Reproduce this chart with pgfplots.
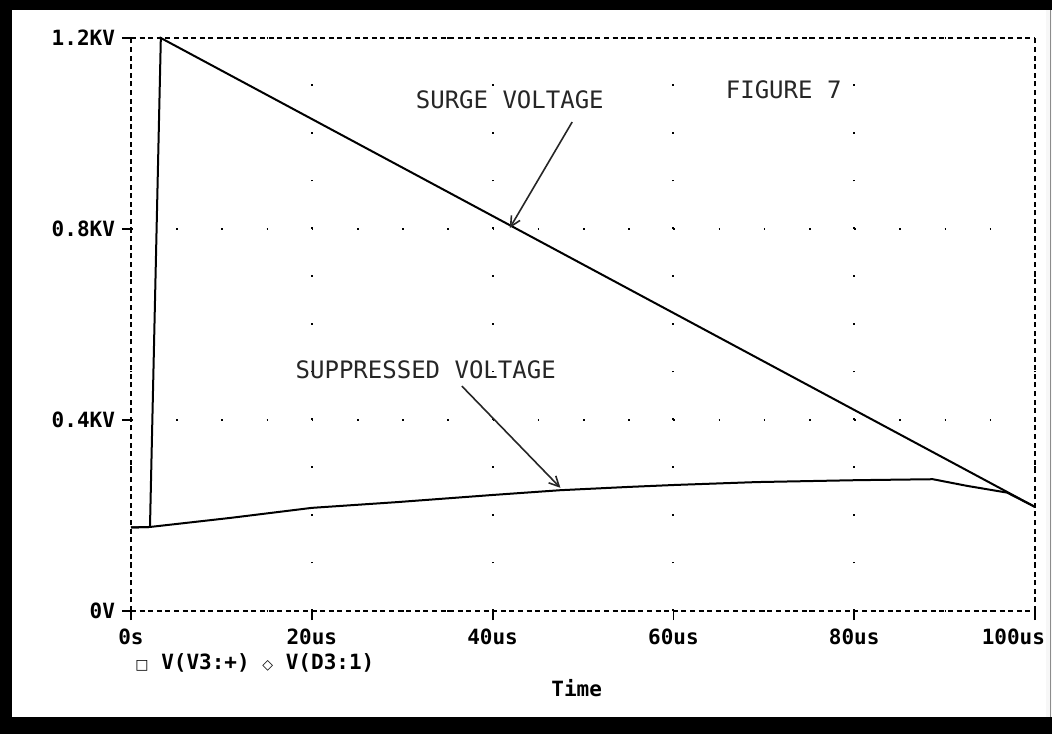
\documentclass[border=0pt]{standalone}
\usepackage{fontspec}
\usepackage{pgfplots}
\pgfplotsset{compat=1.18}
\usetikzlibrary{arrows.meta}
\setmainfont{DejaVu Sans Mono}
\newfontfamily\symfont{DejaVu Sans}
\begin{document}
\begin{tikzpicture}
\useasboundingbox (-65.5pt,-61.5pt) rectangle (460.5pt,305.5pt);
\fill[white] (-65.5pt,-61.5pt) rectangle (460.5pt,305.5pt);
\begin{axis}[
  at={(0pt,0pt)}, anchor=south west,
  scale only axis, width=452pt, height=286.5pt,
  xmin=0, xmax=100, ymin=0, ymax=1.2,
  xtick={0,20,40,60,80,100},
  xticklabels={0s,20us,40us,60us,80us,\makebox[0pt][r]{100us\hspace*{-5pt}}},
  ytick={0,0.4,0.8,1.2},
  yticklabels={0V,0.4KV,0.8KV,1.2KV},
  tick label style={font=\fontsize{10.5}{12}\selectfont\bfseries},
  /pgf/number format/assume math mode=true,
  separate axis lines,
  axis line style={black, line width=0.9pt, dash pattern=on 2.5pt off 1.8pt},
  tick pos=left, tick align=outside, major tick length=4.5pt,
  tick style={black, line width=0.9pt},
  xmajorgrids, ymajorgrids,
  major x grid style={black, line width=1pt, dash pattern=on 0.8pt off 23.075pt},
  major y grid style={black, line width=1pt, dash pattern=on 0.8pt off 21.8pt},
  xticklabel style={yshift=-1pt},
  xlabel={Time},
  xlabel style={font=\fontsize{10.5}{12}\selectfont\bfseries, at={(axis description cs:0.493,0)}, anchor=center, yshift=-38.5pt},
  clip=false,
]
% surge voltage V(V3:+)
\addplot[black, line width=1pt] coordinates {
  (0,0.175) (2.1,0.176) (3.3,1.2) (100,0.218)
};
% suppressed voltage V(D3:1)
\addplot[black, line width=1pt] coordinates {
  (0,0.175) (2.1,0.176) (11,0.195) (20,0.216) (29.4,0.228) (40,0.243)
  (47.5,0.253) (55.2,0.260) (60.2,0.264) (69.2,0.270) (80.3,0.274)
  (88.7,0.276) (92.5,0.262) (96.9,0.248) (100,0.218)
};
\node[font=\fontsize{12}{14}\selectfont, text=black!85] at (axis cs:41.9,1.07) {SURGE VOLTAGE};
\draw[black!85, line width=0.8pt, -{Straight Barb[length=5pt,width=5pt]}] (axis cs:48.8,1.024) -- (axis cs:41.9,0.802);
\node[font=\fontsize{12}{14}\selectfont, text=black!85] at (axis cs:72.2,1.091) {FIGURE 7};
\node[font=\fontsize{12}{14}\selectfont, text=black!85] at (axis cs:32.6,0.505) {SUPPRESSED VOLTAGE};
\draw[black!85, line width=0.8pt, -{Straight Barb[length=5pt,width=5pt]}] (axis cs:36.6,0.471) -- (axis cs:47.5,0.258);
\node[anchor=west, font=\fontsize{10.5}{12}\selectfont\bfseries, inner sep=0pt] at (axis description cs:0,0) [xshift=2pt, yshift=-26pt] {{\symfont\fontsize{7}{8}\selectfont □} V(V3:+) {\symfont\fontsize{7}{8}\selectfont ◇} V(D3:1)};
\end{axis}
\fill[black!3] (457.5pt,-53pt) rectangle (460.5pt,300.5pt);
\fill[black] (-65.5pt,-61.5pt) rectangle (-59.5pt,305.5pt);
\fill[black] (-65.5pt,300.5pt) rectangle (460.5pt,305.5pt);
\fill[black] (-65.5pt,-61.5pt) rectangle (460.5pt,-53pt);
\draw[black!45, line width=0.6pt] (459.6pt,-53pt) -- (459.6pt,300.5pt);
\end{tikzpicture}
\end{document}
